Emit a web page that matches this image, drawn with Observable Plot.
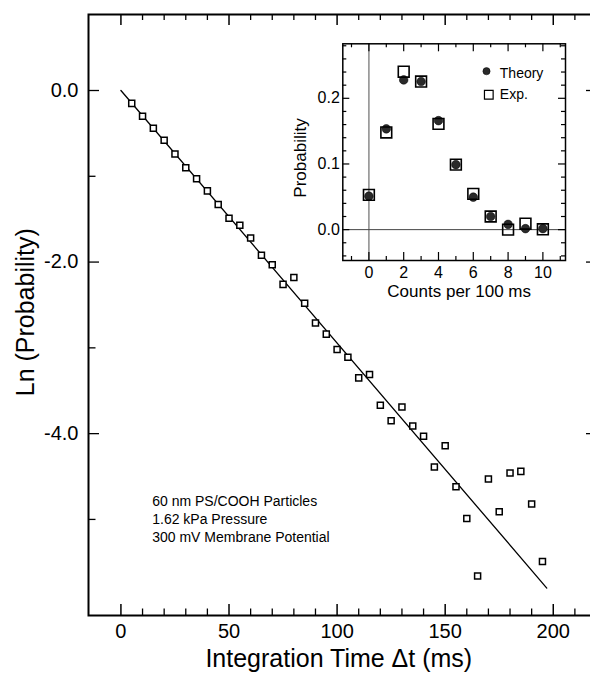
<!DOCTYPE html>
<html><head><meta charset="utf-8">
<script src="https://cdn.jsdelivr.net/npm/d3@7"></script>
<script src="https://cdn.jsdelivr.net/npm/@observablehq/plot@0.6"></script>
<style>
html,body{margin:0;padding:0;background:#fff;overflow:hidden;}
#wrap{position:relative;width:590px;height:673px;}
#main{position:absolute;left:0;top:0;}
#inset{position:absolute;left:280px;top:30px;}
#wrap svg text{font-family:'Liberation Sans', Arial, Helvetica, sans-serif;}
</style></head><body><div id="wrap"><div id="main"></div><div id="inset"></div></div>
<script>
// ---- main panel data ----
const timeMs = [5,10,15,20,25,30,35,40,45,50,55,60,65,70,75,80,85,90,95,100,105,110,115,120,125,130,135,140,145,150,155,160,165,170,175,180,185,190,195];
const lnProb = [-0.15,-0.30,-0.44,-0.58,-0.74,-0.90,-1.03,-1.17,-1.33,-1.49,-1.57,-1.72,-1.92,-2.03,-2.26,-2.18,-2.48,-2.71,-2.84,-3.02,-3.11,-3.35,-3.31,-3.67,-3.85,-3.69,-3.91,-4.03,-4.39,-4.14,-4.62,-4.99,-5.66,-4.53,-4.91,-4.46,-4.44,-4.82,-5.49];
const fitTime = [0, 197];
const fitLnProb = [0, -5.80];
const xMajorTicks = [0, 50, 100, 150, 200];
const xMinorTicks = [10,20,30,40,60,70,80,90,110,120,130,140,160,170,180,190,210];
const yMajorTicks = [0, -2, -4];
const yMinorTicks = [-1, -3, -5];
const xTitle = "Integration Time \u0394t (ms)";
const yTitle = "Ln (Probability)";
const noteLines = ["60 nm PS/COOH Particles", "1.62 kPa Pressure", "300 mV Membrane Potential"];

// ---- inset data ----
const counts = [0,1,2,3,4,5,6,7,8,9,10];
const theoryProb = [0.051,0.1535,0.228,0.2255,0.166,0.099,0.0495,0.020,0.008,0.0015,0.0015];
const expProb = [0.053,0.148,0.2405,0.2255,0.161,0.099,0.0545,0.020,0.000,0.009,0.0005];
const insetXMajor = [0,2,4,6,8,10];
const insetXMinor = [-1,1,3,5,7,9,11];
const insetYMajor = [0, 0.1, 0.2];
const insetYMinor = [-0.04,-0.02,0.02,0.04,0.06,0.08,0.12,0.14,0.16,0.18,0.22,0.24,0.26,0.28];
const insetXTitle = "Counts per 100 ms";
const insetYTitle = "Probability";
const legendLabels = ["Theory", "Exp."];

// inward ticks as rules; pixel lengths converted through the domain/range ratio
function tickRules(ticks, side, lenPx, sw, xDom, yDom, xPx, yPx) {
  const ux = (xDom[1] - xDom[0]) / xPx, uy = (yDom[1] - yDom[0]) / yPx;
  const base = {stroke: "black", strokeWidth: sw};
  if (side === "bottom") return Plot.ruleX(ticks, {...base, x: d => d, y1: yDom[0], y2: yDom[0] + lenPx * uy});
  if (side === "top") return Plot.ruleX(ticks, {...base, x: d => d, y1: yDom[1], y2: yDom[1] - lenPx * uy});
  if (side === "left") return Plot.ruleY(ticks, {...base, y: d => d, x1: xDom[0], x2: xDom[0] + lenPx * ux});
  return Plot.ruleY(ticks, {...base, y: d => d, x1: xDom[1], x2: xDom[1] - lenPx * ux});
}

const mainData = timeMs.map((t, i) => ({t, lnp: lnProb[i]}));
const fitData = fitTime.map((t, i) => ({t, lnp: fitLnProb[i]}));

const MW = 590, MH = 673, ML = 88, MR = -6, MT = 14, MB = 58;
const mxDom = [-15, 220], myDom = [-6.12, 0.886];
const mxPx = MW - ML - MR, myPx = MH - MT - MB;
const mt = (ticks, side, len, sw) => tickRules(ticks, side, len, sw, mxDom, myDom, mxPx, myPx);

const mainPlot = Plot.plot({
  width: MW, height: MH,
  marginLeft: ML, marginRight: MR, marginTop: MT, marginBottom: MB,
  style: {background: "transparent", overflow: "hidden", color: "black"},
  x: {domain: mxDom},
  y: {domain: myDom},
  marks: [
    Plot.frame({stroke: "black", strokeWidth: 2}),
    mt(xMajorTicks, "bottom", 11, 1.5),
    mt(xMinorTicks, "bottom", 6.5, 1.3),
    mt(xMajorTicks, "top", 11, 1.5),
    mt(xMinorTicks, "top", 6, 1.3),
    mt(yMajorTicks, "left", 11, 1.3),
    mt(yMinorTicks, "left", 7.5, 1.3),
    mt(yMajorTicks, "right", 10, 1.3),
    mt(yMinorTicks, "right", 6, 1),
    Plot.axisX(xMajorTicks, {anchor: "bottom", tickSize: 0, tickPadding: 8, fontSize: 20, tickFormat: d => String(d), label: null}),
    Plot.axisY(yMajorTicks, {anchor: "left", tickSize: 0, tickPadding: 10, fontSize: 20, tickFormat: d => d.toFixed(1), label: null}),
    Plot.line(fitData, {x: "t", y: "lnp", stroke: "black", strokeWidth: 1.3}),
    Plot.dot(mainData, {x: "t", y: "lnp", symbol: "square", r: 3.4, stroke: "black", fill: "white", strokeWidth: 1.5}),
    Plot.text([noteLines.join("\n")], {frameAnchor: "left", dx: 63.7, dy: 178.3, textAnchor: "start", lineAnchor: "top", lineHeight: 1.29, fontSize: 14, fill: "black"}),
    Plot.text([xTitle], {frameAnchor: "bottom", textAnchor: "middle", lineAnchor: "middle", dx: -3.7, dy: 43.7, fontSize: 25, fill: "black"}),
    Plot.text([yTitle], {frameAnchor: "left", textAnchor: "middle", lineAnchor: "middle", rotate: -90, dx: -62.7, dy: -2.8, fontSize: 25, fill: "black"})
  ]
});
document.getElementById("main").appendChild(mainPlot);

const insetTheory = counts.map((k, i) => ({k, p: theoryProb[i]}));
const insetExp = counts.map((k, i) => ({k, p: expProb[i]}));

const IW = 300, IH = 280, IL = 62.3, IR = 15, IT = 13.3, IB = 50;
const ixDom = [-1.5, 11.3], iyDom = [-0.047, 0.283];
const ixPx = IW - IL - IR, iyPx = IH - IT - IB;
const it = (ticks, side, len, sw) => tickRules(ticks, side, len, sw, ixDom, iyDom, ixPx, iyPx);

const insetPlot = Plot.plot({
  width: IW, height: IH,
  marginLeft: IL, marginRight: IR, marginTop: IT, marginBottom: IB,
  style: {background: "transparent", overflow: "visible", color: "black"},
  x: {domain: ixDom},
  y: {domain: iyDom},
  marks: [
    Plot.ruleX([0], {stroke: "#8a8a8a", strokeWidth: 1.5}),
    Plot.ruleY([0], {stroke: "#444", strokeWidth: 1}),
    Plot.frame({stroke: "black", strokeWidth: 1.5}),
    it(insetXMajor, "bottom", 8, 1.2),
    it(insetXMinor, "bottom", 4, 1.2),
    it(insetXMajor, "top", 8, 1.2),
    it(insetXMinor, "top", 4, 1.2),
    it(insetYMajor, "left", 7, 1.2),
    it(insetYMinor, "left", 4, 1.2),
    it(insetYMajor, "right", 7, 1.2),
    it(insetYMinor, "right", 4, 1.2),
    Plot.axisX(insetXMajor, {anchor: "bottom", tickSize: 0, tickPadding: 6, fontSize: 16, tickFormat: d => String(d), label: null}),
    Plot.axisY(insetYMajor, {anchor: "left", tickSize: 0, tickPadding: 3, fontSize: 16, tickFormat: d => d.toFixed(1), label: null}),
    Plot.dot(insetTheory, {x: "k", y: "p", r: 4.3, fill: "#2a2a2a", stroke: "black", strokeWidth: 0.5}),
    Plot.dot(insetExp, {x: "k", y: "p", symbol: "square", r: 6.1, fill: "none", stroke: "black", strokeWidth: 1.6}),
    Plot.dot([legendLabels[0]], {frameAnchor: "top-right", dx: -79, dy: 27.4, r: 3.6, fill: "#2a2a2a", stroke: "black", strokeWidth: 0.5}),
    Plot.dot([legendLabels[1]], {frameAnchor: "top-right", dx: -76.7, dy: 51, symbol: "square", r: 4.9, fill: "none", stroke: "black", strokeWidth: 1.2}),
    Plot.text([legendLabels[0]], {frameAnchor: "top-right", dx: -65.7, dy: 29.5, textAnchor: "start", lineAnchor: "middle", fontSize: 14, fill: "black"}),
    Plot.text([legendLabels[1]], {frameAnchor: "top-right", dx: -65.7, dy: 51.2, textAnchor: "start", lineAnchor: "middle", fontSize: 14, fill: "black"}),
    Plot.text([insetXTitle], {frameAnchor: "bottom", textAnchor: "middle", lineAnchor: "middle", dx: 5, dy: 31.3, fontSize: 17, fill: "black"}),
    Plot.text([insetYTitle], {frameAnchor: "left", textAnchor: "middle", lineAnchor: "middle", rotate: -90, dx: -42, dy: 5.8, fontSize: 17, fill: "black"})
  ]
});
document.getElementById("inset").appendChild(insetPlot);
</script></body></html>
